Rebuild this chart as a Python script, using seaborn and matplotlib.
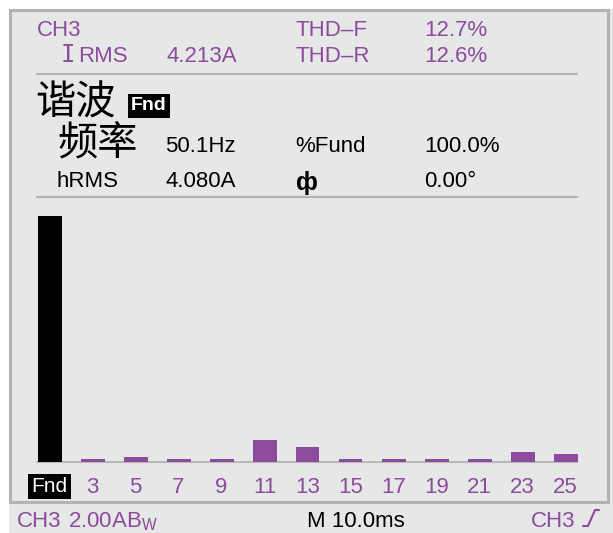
import matplotlib
matplotlib.use("Agg")
import matplotlib.pyplot as plt
import seaborn as sns
import pandas as pd
from matplotlib.patches import Rectangle
from matplotlib.lines import Line2D

# Harmonic spectrum, each order as % of the fundamental
harmonics = ["Fnd", "3", "5", "7", "9", "11", "13", "15", "17", "19", "21", "23", "25"]
percent_of_fund = [100.0, 1.2, 2.2, 1.2, 1.2, 8.9, 6.1, 1.2, 1.2, 1.2, 1.2, 4.2, 3.3]

# Readouts
channel = "CH3"
i_rms = "4.213A"
thd_f = "12.7%"
thd_r = "12.6%"
freq = "50.1Hz"
pct_fund = "100.0%"
h_rms = "4.080A"
phase = "0.00°"
scale = "2.00A"
timebase = "M 10.0ms"

PURPLE = "#8e4a9c"
BG = "#e6e7e7"
LINE = "#b3b3b3"
FS = 16

sns.set_style("white")
plt.rcParams["font.family"] = ["Liberation Sans", "Noto Sans CJK SC", "DejaVu Sans"]
LAT = ["Liberation Sans", "DejaVu Sans"]
CJK = ["Noto Sans CJK SC", "DejaVu Sans"]

W, H = 613, 533
fig = plt.figure(figsize=(W / 100, H / 100), dpi=100, facecolor="white")


def fx(x):
    return x / W


def fy(y):
    return 1 - y / H


def ftext(x, y, s, size=FS, color=PURPLE, family=LAT, **kw):
    kw.setdefault("va", "baseline")
    return fig.text(fx(x), fy(y), s, fontsize=size, color=color, family=family, **kw)


# screen background and frame
fig.patches.append(Rectangle((fx(9), 0), fx(W - 9), fy(9), transform=fig.transFigure,
                             facecolor=BG, edgecolor="none", zorder=-5))
fig.patches.append(Rectangle((fx(10), fy(502)), fx(598), (502 - 10) / H, transform=fig.transFigure,
                             fill=False, edgecolor=LINE, lw=2.2, zorder=-4))
for yy in (74, 197):
    fig.lines.append(Line2D([fx(37), fx(577)], [fy(yy), fy(yy)], transform=fig.transFigure,
                            color=LINE, lw=1.6))

# header readouts
ftext(37, 36, channel)
ftext(61, 62, "I", family=["DejaVu Sans Mono"], size=17)
ftext(78, 62, "RMS")
ftext(166, 62, i_rms)
ftext(295, 36, "THD–F")
ftext(295, 62, "THD–R")
ftext(424, 36, thd_f)
ftext(424, 62, thd_r)

# selected harmonic details
ftext(35, 103, "谐波", size=29, color="black", family=CJK, va="center")
ftext(131, 110, "Fnd", size=14, color="white", fontweight="bold",
      bbox=dict(facecolor="black", edgecolor="none", boxstyle="square,pad=0.18"))
ftext(57, 144, "频率", size=29, color="black", family=CJK, va="center")
ftext(165, 152, freq, color="black")
ftext(295, 152, "%Fund", color="black")
ftext(424, 152, pct_fund, color="black")
ftext(57, 187, "hRMS", color="black")
ftext(165, 187, h_rms, color="black")
ftext(296, 190, "ф", color="black", size=18, fontweight="bold")
ftext(424, 187, phase, color="black")

# status bar
ftext(17, 527, channel)
ftext(68, 527, scale + r"$\mathregular{B_W}$")
ftext(307, 527, timebase, color="black")
ftext(531, 527, channel)
fig.lines.append(Line2D([fx(583), fx(588), fx(595), fx(599)],
                        [fy(526), fy(526), fy(510), fy(510)],
                        transform=fig.transFigure, color=PURPLE, lw=1.5))

# spectrum bars
df = pd.DataFrame({"harmonic": harmonics, "percent": percent_of_fund})
colors = ["black"] + [PURPLE] * (len(harmonics) - 1)
ax = fig.add_axes([fx(28), fy(462.3), fx(559), 246.6 / H])
sns.barplot(data=df, x="harmonic", y="percent", hue="harmonic", palette=colors,
            width=24 / 43, saturation=1, legend=False, ax=ax, edgecolor="none")
ax.set_xlim(-0.5, len(harmonics) - 0.5)
ax.set_ylim(0, 100)
ax.set_facecolor("none")
for s in ax.spines.values():
    s.set_visible(False)
ax.set_yticks([])
ax.set_xlabel("")
ax.set_ylabel("")
ax.axhline(0, xmin=9 / 559, xmax=549 / 559, color="#b8b8b8", lw=1.5, zorder=0, clip_on=False)
ax.tick_params(axis="x", length=0, pad=10.5, labelsize=FS, labelcolor=PURPLE)
for i, lbl in enumerate(ax.get_xticklabels()):
    lbl.set_family(LAT)
    if i == 0:
        lbl.set_color("white")
        lbl.set_fontsize(15)
        lbl.set_bbox(dict(facecolor="black", edgecolor="none", boxstyle="square,pad=0.16"))

fig.savefig("out.png", dpi=100, facecolor="white")
